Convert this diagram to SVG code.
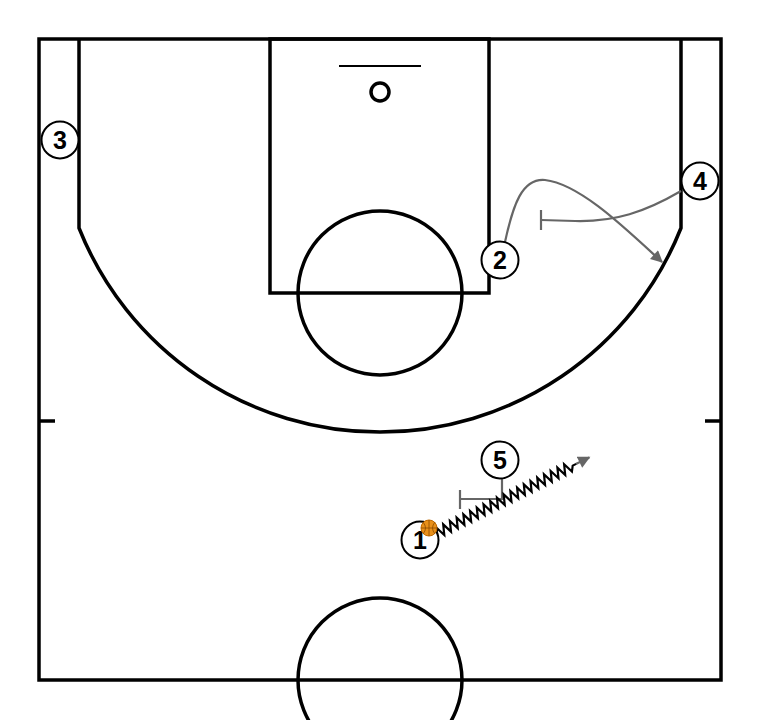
<svg xmlns="http://www.w3.org/2000/svg" width="760" height="720" viewBox="0 0 760 720">
<style>
.court{fill:none;stroke:#000;stroke-width:3.5}
.pl circle{fill:#fff;stroke:#000;stroke-width:2}
.pl text{font-family:"Liberation Sans",Arial,sans-serif;font-weight:bold;font-size:25px;text-anchor:middle;fill:#000}
.mv{fill:none;stroke:#666;stroke-width:2.2}
.zz{fill:none;stroke:#000;stroke-width:2.2}
</style>
<defs>
<marker id="ah" viewBox="0 0 10 10" refX="9" refY="5" markerWidth="6" markerHeight="5.5" orient="auto" markerUnits="strokeWidth">
<path d="M0,0 L10,5 L0,10 Z" fill="#666"/>
</marker>
</defs>
<rect width="760" height="720" fill="#fff"/>
<g id="court">
<rect class="court" x="39" y="39" width="682" height="641"/>
<rect class="court" x="270" y="39" width="219" height="254"/>
<path class="court" d="M79,39 L79,228 A324,324 0 0 0 681,228 L681,39"/>
<circle class="court" cx="380" cy="293" r="82"/>
<circle class="court" cx="380" cy="680" r="82"/>
<line class="court" x1="339" y1="66" x2="421" y2="66" style="stroke-width:2"/>
<circle class="court" cx="380" cy="92" r="9"/>
<line class="court" x1="39" y1="421" x2="55" y2="421"/>
<line class="court" x1="705" y1="421" x2="721" y2="421"/>
</g>
<g id="connectors">
<path class="mv" d="M505,242 C513,205 522,178 545,180 C580,184 625,228 662,262" marker-end="url(#ah)"/>
<path class="mv" d="M681,191 C645,212 615,222 575,221 L541,220"/>
<line class="mv" x1="541" y1="210" x2="541" y2="230"/>
<path class="mv" d="M502,478 L502,499 L460,499"/>
<line class="mv" x1="460" y1="490" x2="460" y2="509"/>
<g transform="translate(437,533) rotate(-26.4)">
<polyline class="zz" points="0,0 1.9,-5 5.65,5 9.4,-5 13.15,5 16.9,-5 20.65,5 24.4,-5 28.15,5 31.9,-5 35.65,5 39.4,-5 43.15,5 46.9,-5 50.65,5 54.4,-5 58.15,5 61.9,-5 65.65,5 69.4,-5 73.15,5 76.9,-5 80.65,5 84.4,-5 88.15,5 91.9,-5 95.65,5 99.4,-5 103.15,5 106.9,-5 110.65,5 114.4,-5 118.15,5 121.9,-5 125.65,5 129.4,-5 133.15,5 136.9,-5 140.65,5 144.4,-5 148.15,5 151.5,0 156,0"/>
<line class="mv" x1="155" y1="0" x2="170" y2="0" marker-end="url(#ah)"/>
</g>
</g>
<g id="p3" class="pl"><circle cx="60" cy="140" r="18.5"/><text x="60" y="149">3</text></g>
<g id="p4" class="pl"><circle cx="700" cy="181" r="18.5"/><text x="700" y="190">4</text></g>
<g id="p2" class="pl"><circle cx="500" cy="260" r="18.5"/><text x="500" y="269">2</text></g>
<g id="p5" class="pl"><circle cx="500" cy="460" r="18.5"/><text x="500" y="469">5</text></g>
<g id="p1" class="pl"><circle cx="420" cy="540" r="18.5"/><text x="420" y="549">1</text></g>
<g id="ball">
<circle cx="429" cy="528" r="8" fill="#E8901A" stroke="#C06A00" stroke-width="1"/>
<path d="M421,528 L437,528 M429,520 L429,536 M423,522 Q428,528 423,534 M435,522 Q430,528 435,534" fill="none" stroke="#8A4A00" stroke-width="0.8"/>
</g>
</svg>
